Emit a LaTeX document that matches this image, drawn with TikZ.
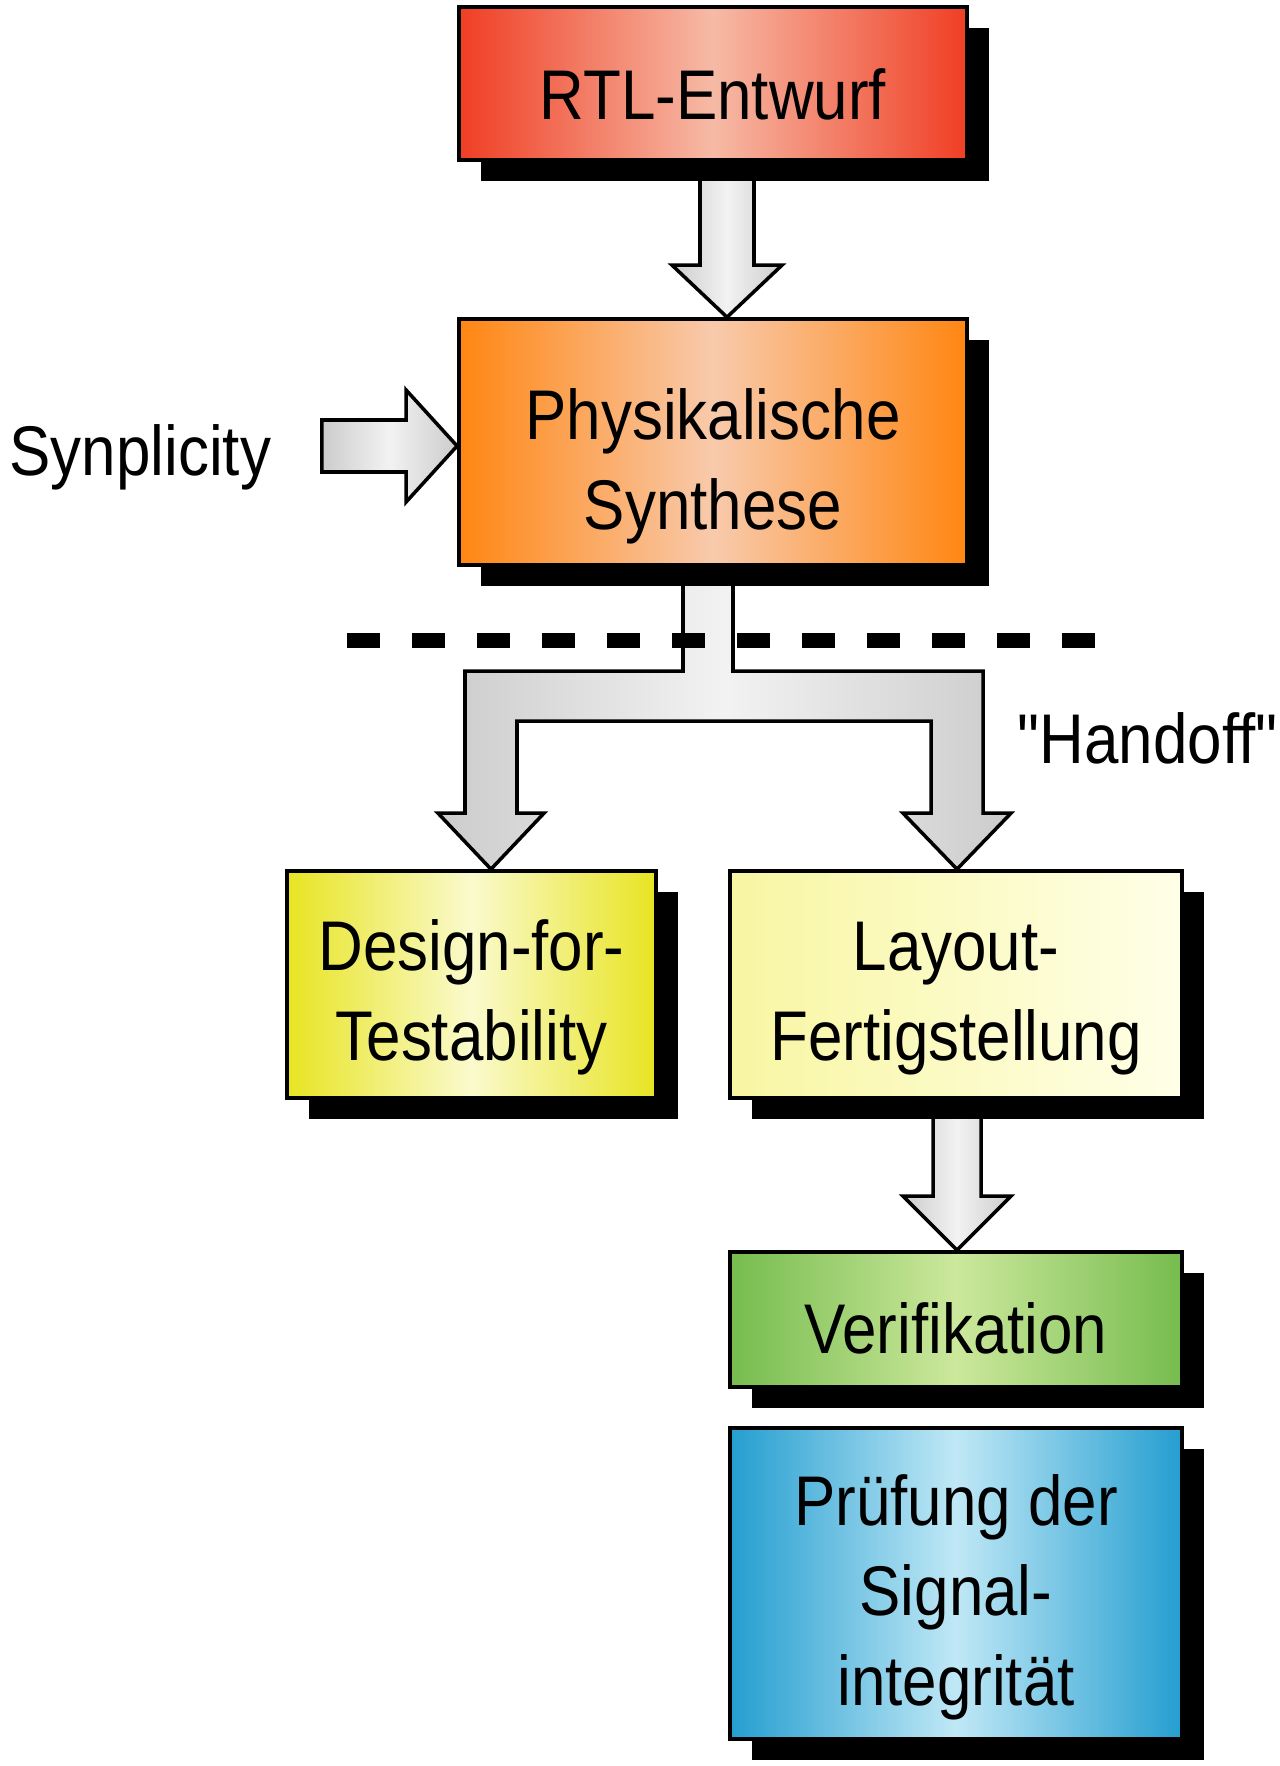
\documentclass[tikz,border=0pt]{standalone}
\usepackage{fontspec}
\newfontfamily\schrift{Liberation Sans}[FakeStretch=0.88]
\usepackage{xcolor}
\usetikzlibrary{calc, shadows, backgrounds}
\definecolor{rougevif}{RGB}{240,62,36}
\definecolor{rougeclair}{RGB}{246,186,166}
\definecolor{orangevif}{RGB}{255,134,18}
\definecolor{orangeclair}{RGB}{248,202,172}
\definecolor{jaunevif}{RGB}{232,228,34}
\definecolor{jauneclair}{RGB}{250,250,205}
\definecolor{jaunepale}{RGB}{248,246,162}
\definecolor{jauneblanc}{RGB}{255,255,232}
\definecolor{vertvif}{RGB}{118,188,78}
\definecolor{vertclair}{RGB}{204,232,156}
\definecolor{bleuvif}{RGB}{36,158,208}
\definecolor{bleuclair}{RGB}{192,232,246}

\tikzset{
  etape/.style={draw=black, line width=1pt, inner sep=0pt, align=center,
    font=\schrift\fontsize{20}{25.5}\selectfont,
    drop shadow={shadow xshift=0.22cm, shadow yshift=-0.21cm, fill=black, opacity=1}},
  degrade/.style n args={2}{left color=#1, right color=#1, middle color=#2},
  fleche/.style={draw=black, line width=1pt, line join=miter,
    left color=black!20, right color=black!20, middle color=black!5},
  legende/.style={font=\schrift\fontsize{20}{25.5}\selectfont, inner sep=0pt}
}

\begin{document}
\begin{tikzpicture}[x=0.01cm, y=-0.01cm]
    \useasboundingbox (0,0) rectangle (1280,1766);

    % Etapes du flot
    \node[etape, degrade={rougevif}{rougeclair}, minimum width=5.08cm, minimum height=1.53cm,
      text height=0.86cm, text depth=0.15cm] (rtl) at (713,83.5) {RTL-Entwurf};
    \node[etape, degrade={orangevif}{orangeclair}, minimum width=5.08cm, minimum height=2.46cm,
      text height=2.0cm, text depth=0.26cm] (phys) at (713,442) {Physikalische\\Synthese};
    \node[etape, degrade={jaunevif}{jauneclair}, minimum width=3.69cm, minimum height=2.27cm,
      text height=1.8cm, text depth=0.29cm] (dft) at (471.5,984.5) {Design-for-\\Testability};
    \node[etape, left color=jaunepale, right color=jauneblanc, minimum width=4.52cm, minimum height=2.27cm,
      text height=1.8cm, text depth=0.29cm] (layout) at (956,984.5) {Layout-\\Fertigstellung};
    \node[etape, degrade={vertvif}{vertclair}, minimum width=4.52cm, minimum height=1.35cm,
      text height=0.82cm, text depth=0.15cm] (verif) at (956,1319.5) {Verifikation};
    \node[etape, degrade={bleuvif}{bleuclair}, minimum width=4.52cm, minimum height=3.11cm,
      text height=2.6cm, text depth=0.17cm] (pruef) at (956,1583.5) {Prüfung der\\Signal-\\integrität};

    % Textes libres
    \node[legende, anchor=west] (synp) at (9,457) {Synplicity};
    \node[legende, anchor=east] (handoff) at (1278,738) {"Handoff"};
    \coordinate (depart) at ($(synp.east)+(50,-11)$);

    % Fleches (derriere les boites)
    \begin{scope}[on background layer]
    \draw[fleche] ($(rtl.south)+(-13,0)$) -- ($(phys.north)+(-13,-52)$) -- ($(phys.north)+(-41,-52)$)
      -- ($(phys.north)+(14,0)$) -- ($(phys.north)+(69,-52)$) -- ($(phys.north)+(41,-52)$)
      -- ($(rtl.south)+(41,0)$) -- cycle;
    \draw[fleche] ($(depart)+(0,-26)$) -- ($(phys.west)+(-51,-22)$) -- ($(phys.west)+(-51,-52)$)
      -- ($(phys.west)+(0,4)$) -- ($(phys.west)+(-51,60)$) -- ($(phys.west)+(-51,30)$)
      -- ($(depart)+(0,26)$) -- cycle;
    \draw[fleche] ($(phys.south)+(-30,0)$) |- ($(dft.north)+(-6.5,-198)$)
      -- ($(dft.north)+(-6.5,-56)$) -- ($(dft.north)+(-33.5,-56)$) -- ($(dft.north)+(19.5,0)$)
      -- ($(dft.north)+(72.5,-56)$) -- ($(dft.north)+(45.5,-56)$) |- ($(layout.north)+(-25,-148)$)
      -- ($(layout.north)+(-25,-56)$) -- ($(layout.north)+(-53,-56)$) -- ($(layout.north)+(1,0)$)
      -- ($(layout.north)+(55,-56)$) -- ($(layout.north)+(27,-56)$) -- ($(layout.north)+(27,-198)$)
      -| ($(phys.south)+(20,0)$) -- cycle;
    \draw[fleche] ($(layout.south)+(-23,0)$) -- ($(verif.north)+(-23,-54)$) -- ($(verif.north)+(-53,-54)$)
      -- ($(verif.north)+(1,0)$) -- ($(verif.north)+(55,-54)$) -- ($(verif.north)+(25,-54)$)
      -- ($(layout.south)+(25,0)$) -- cycle;
    \end{scope}

    % Separation "Handoff"
    \coordinate (sepg) at (347,640);
    \coordinate (sepd) at (1098,640);
    \draw[line width=0.15cm, dash pattern=on 0.33cm off 0.32cm] (sepg) -- (sepd);
\end{tikzpicture}
\end{document}
